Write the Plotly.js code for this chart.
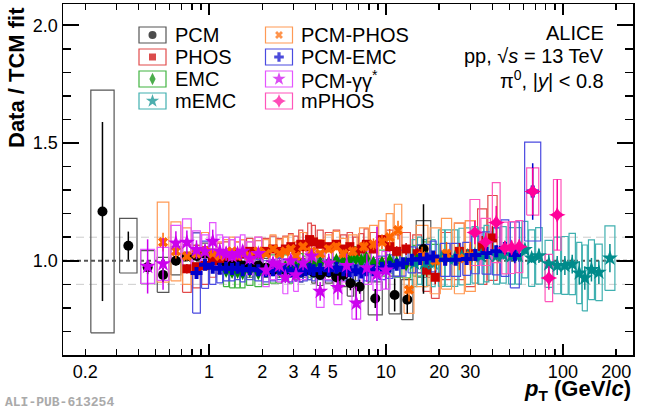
<!DOCTYPE html>
<html>
<head>
<meta charset="utf-8">
<script src="https://cdn.plot.ly/plotly-3.0.1.min.js"></script>
<style>
  html, body { margin:0; padding:0; background:#fff; }
  #plot { width:650px; height:409px; }
</style>
</head>
<body>
<div id="plot"></div>
<script>
// pi0 data / TCM fit, pp 13 TeV

// PCM
const pcmPt   = [0.25,0.35,0.45,0.55,0.65,0.75,0.85,0.95,1.05,1.15,1.25,1.35,1.45,1.55,1.7,1.9,2.1,2.3,2.5,2.7,2.9,3.1,3.3,3.5,3.7,3.9,4.25,4.75,5.25,5.75,6.3,7.1,8.7,11.2,13.2,16.3];
const pcmVal  = [1.209,1.064,0.973,0.94,1.0,1.018,1.02,1.03,1.01,1.0,0.99,0.98,0.99,0.98,0.97,0.98,0.97,0.96,0.97,0.96,0.97,0.96,0.95,0.97,0.96,0.95,0.94,0.95,0.93,0.94,0.905,0.89,0.84,0.855,0.835,1.05];
const pcmStat = [0.38,0.06,0.03,0.03,0.02,0.015,0.015,0.015,0.012,0.012,0.012,0.012,0.012,0.012,0.012,0.012,0.012,0.012,0.012,0.014,0.014,0.015,0.015,0.016,0.016,0.017,0.018,0.02,0.022,0.025,0.03,0.03,0.04,0.07,0.06,0.19];
const pcmSys  = [0.515,0.116,0.07,0.074,0.06,0.05,0.045,0.045,0.04,0.04,0.04,0.04,0.04,0.04,0.04,0.04,0.04,0.04,0.04,0.04,0.04,0.04,0.04,0.04,0.04,0.045,0.045,0.045,0.05,0.05,0.055,0.06,0.07,0.08,0.085,0.12];

// PHOS
const phosPt   = [0.75,0.85,0.95,1.05,1.15,1.25,1.35,1.45,1.55,1.7,1.9,2.1,2.3,2.5,2.7,2.9,3.1,3.3,3.5,3.7,3.9,4.25,4.75,5.25,5.75,6.25,6.75,7.25,7.75,8.5,9.5,10.5,11.5,13,15,17,19,22,26,30,35,40];
const phosVal  = [0.966,0.975,0.98,1.0,1.01,1.02,1.03,1.02,1.03,1.04,1.03,1.04,1.05,1.04,1.05,1.06,1.05,1.07,1.06,1.09,1.08,1.07,1.06,1.07,1.05,1.06,1.04,1.05,1.07,1.05,1.09,1.06,1.04,1.05,1.03,0.96,0.93,1.02,1.04,1.03,1.06,1.097];
const phosStat = [0.02,0.015,0.012,0.01,0.01,0.01,0.01,0.01,0.01,0.01,0.01,0.01,0.01,0.01,0.01,0.01,0.012,0.012,0.012,0.012,0.012,0.012,0.012,0.014,0.014,0.015,0.015,0.016,0.016,0.018,0.02,0.02,0.022,0.025,0.025,0.03,0.03,0.03,0.035,0.04,0.045,0.05];
const phosSys  = [0.1,0.09,0.08,0.07,0.065,0.06,0.06,0.06,0.06,0.055,0.055,0.055,0.055,0.055,0.055,0.055,0.055,0.06,0.06,0.07,0.07,0.06,0.06,0.06,0.06,0.06,0.06,0.065,0.065,0.07,0.08,0.07,0.07,0.07,0.08,0.09,0.09,0.1,0.12,0.14,0.16,0.18];

// EMC
const emcPt   = [1.25,1.35,1.45,1.55,1.7,1.9,2.1,2.3,2.5,2.7,2.9,3.1,3.3,3.5,3.7,3.9,4.25,4.75,5.25,5.75,6.25,6.75,7.25,7.75,8.5,9.5,10.5,11.5,13,15,17,19];
const emcVal  = [0.96,0.955,0.955,0.95,0.96,0.95,0.96,0.965,0.96,0.97,0.96,0.97,0.98,0.97,0.98,0.98,0.99,0.99,1.0,1.0,1.004,1.01,1.0,1.01,0.99,0.99,1.0,0.99,0.987,1.0,1.01,1.0];
const emcStat = [0.012,0.012,0.012,0.012,0.01,0.01,0.01,0.01,0.01,0.01,0.01,0.01,0.01,0.01,0.01,0.01,0.01,0.01,0.01,0.01,0.01,0.01,0.01,0.01,0.012,0.012,0.014,0.014,0.016,0.018,0.02,0.025];
const emcSys  = [0.07,0.07,0.07,0.065,0.065,0.06,0.06,0.06,0.055,0.055,0.055,0.05,0.05,0.05,0.05,0.05,0.05,0.05,0.05,0.05,0.05,0.05,0.05,0.05,0.05,0.055,0.055,0.06,0.06,0.065,0.07,0.07];

// mEMC
const memcPt   = [14.5,15.5,16.5,17.5,18.5,20.6,22.5,24.5,26.8,29,31.8,34.5,37,42.2,46,51.3,56,61,66.6,73.2,83.3,92.9,102.6,112.9,123.7,133,145,159.7,184.4];
const memcVal  = [0.99,1.0,0.99,0.995,0.99,1.011,1.011,1.011,1.018,1.02,1.025,1.02,1.03,1.021,1.025,1.021,1.021,1.047,1.011,1.021,0.987,0.98,0.98,0.986,0.948,0.927,0.962,0.951,1.011];
const memcStat = [0.015,0.015,0.015,0.015,0.015,0.015,0.015,0.015,0.015,0.015,0.015,0.015,0.015,0.02,0.02,0.02,0.02,0.02,0.02,0.03,0.04,0.04,0.04,0.04,0.05,0.05,0.05,0.05,0.06];
const memcSys  = [0.1,0.1,0.1,0.1,0.1,0.12,0.12,0.12,0.12,0.12,0.12,0.12,0.12,0.12,0.12,0.12,0.12,0.12,0.12,0.12,0.1,0.12,0.123,0.13,0.13,0.14,0.127,0.12,0.137];

// PCM-PHOS
const pcmphosPt   = [0.55,0.65,0.75,0.85,0.95,1.05,1.15,1.25,1.35,1.45,1.55,1.7,1.9,2.1,2.3,2.5,2.7,2.9,3.1,3.4,3.8,4.25,4.75,5.25,5.75,6.5,7.5,8.5,9.5,10.5,11.7,13.5,16,19,22,26,30];
const pcmphosVal  = [1.079,1.04,1.02,1.03,1.04,1.03,1.02,1.03,1.04,1.02,1.03,1.02,1.04,1.03,1.05,1.03,1.04,1.05,1.02,1.06,1.04,1.03,1.05,1.06,1.03,1.04,1.06,1.07,1.08,1.1,1.13,0.877,1.02,1.0,1.03,1.01,1.02];
const pcmphosStat = [0.04,0.03,0.02,0.015,0.015,0.012,0.012,0.012,0.012,0.012,0.012,0.012,0.012,0.012,0.012,0.012,0.012,0.012,0.012,0.012,0.012,0.014,0.015,0.016,0.018,0.02,0.022,0.025,0.03,0.035,0.04,0.05,0.04,0.04,0.05,0.05,0.06];
const pcmphosSys  = [0.17,0.125,0.12,0.09,0.08,0.06,0.06,0.06,0.06,0.06,0.06,0.06,0.06,0.06,0.06,0.06,0.06,0.06,0.06,0.06,0.06,0.06,0.06,0.065,0.065,0.07,0.08,0.08,0.09,0.1,0.11,0.1,0.13,0.14,0.15,0.15,0.15];

// PCM-EMC
const pcmemcPt   = [0.85,0.95,1.05,1.15,1.25,1.35,1.45,1.55,1.7,1.9,2.1,2.3,2.5,2.7,2.9,3.1,3.3,3.5,3.7,3.9,4.25,4.75,5.25,5.75,6.25,6.75,7.25,7.75,8.5,9.5,10.5,11.5,12.5,14,15.6,17,18.5,21.6,24.8,28.6,32,37,42,47,53.5,67.5];
const pcmemcVal  = [0.948,0.983,0.97,0.966,0.97,0.965,0.97,0.96,0.965,0.96,0.955,0.96,0.965,0.96,0.955,0.96,0.955,0.96,0.965,0.96,0.965,0.96,0.97,0.96,0.955,0.96,0.95,0.96,0.96,0.97,0.975,0.983,0.99,1.004,1.008,1.01,1.018,1.004,1.004,1.008,1.025,1.033,1.04,1.054,1.025,1.294];
const pcmemcStat = [0.02,0.015,0.01,0.01,0.01,0.01,0.01,0.01,0.01,0.01,0.01,0.01,0.01,0.01,0.01,0.01,0.01,0.01,0.01,0.01,0.01,0.01,0.01,0.01,0.01,0.01,0.01,0.01,0.01,0.012,0.012,0.014,0.015,0.015,0.015,0.016,0.016,0.015,0.015,0.015,0.015,0.02,0.025,0.03,0.035,0.12];
const pcmemcSys  = [0.17,0.1,0.07,0.06,0.055,0.05,0.05,0.05,0.045,0.045,0.045,0.045,0.045,0.045,0.045,0.045,0.045,0.045,0.045,0.045,0.045,0.045,0.045,0.045,0.045,0.045,0.045,0.045,0.045,0.05,0.05,0.05,0.055,0.055,0.06,0.06,0.065,0.07,0.07,0.07,0.08,0.09,0.1,0.12,0.14,0.21];

// PCM-gamma gamma*
const pcmdalPt   = [0.45,0.55,0.65,0.75,0.85,0.95,1.05,1.15,1.25,1.35,1.45,1.55,1.7,1.9,2.1,2.3,2.5,2.7,2.9,3.1,3.4,3.8,4.25,4.75,5.35,6.0,6.8,7.8,8.9,10];
const pcmdalVal  = [0.976,0.987,1.075,1.078,1.047,1.04,1.082,1.04,1.03,1.02,1.03,1.04,1.01,1.03,0.96,0.99,0.98,0.93,1.0,0.94,0.99,1.02,0.87,0.99,0.886,0.98,0.82,0.97,0.944,0.96];
const pcmdalStat = [0.115,0.11,0.05,0.05,0.04,0.03,0.05,0.03,0.03,0.025,0.025,0.025,0.025,0.025,0.025,0.025,0.025,0.025,0.025,0.03,0.03,0.03,0.04,0.04,0.05,0.05,0.07,0.06,0.2,0.08];
const pcmdalSys  = [0.072,0.07,0.075,0.1,0.08,0.07,0.08,0.07,0.07,0.07,0.07,0.07,0.07,0.07,0.07,0.07,0.07,0.07,0.07,0.07,0.07,0.07,0.068,0.07,0.072,0.07,0.068,0.07,0.07,0.08];

// mPHOS
const mphosPt   = [31.8,36.6,42,47,51.3,56.7,67.5,83.3,92.9];
const mphosVal  = [1.12,1.08,1.162,1.054,1.056,1.06,1.294,0.927,1.195];
const mphosStat = [0.05,0.04,0.07,0.03,0.03,0.03,0.1,0.05,0.15];
const mphosSys  = [0.14,0.1,0.17,0.11,0.11,0.11,0.1,0.1,0.15];

const xTickVals = [0.2,1,2,3,4,5,10,20,30,100,200];
const xMinorVals = [0.3,0.4,0.5,0.6,0.7,0.8,0.9,6,7,8,9,40,50,60,70,80,90];

const series = [
  {name:'PCM',      pt:pcmPt,     val:pcmVal,     stat:pcmStat,     sys:pcmSys,     color:'#000000', box:'#555555', symbol:'circle',       size:10},
  {name:'PHOS',     pt:phosPt,    val:phosVal,    stat:phosStat,    sys:phosSys,    color:'#cc0000', box:'#e24b4b', symbol:'square',       size:9},
  {name:'EMC',      pt:emcPt,     val:emcVal,     stat:emcStat,     sys:emcSys,     color:'#008a00', box:'#40b440', symbol:'diamond-tall', size:11},
  {name:'mEMC',     pt:memcPt,    val:memcVal,    stat:memcStat,    sys:memcSys,    color:'#008b8b', box:'#40b0b0', symbol:'star',         size:12},
  {name:'PCM-PHOS', pt:pcmphosPt, val:pcmphosVal, stat:pcmphosStat, sys:pcmphosSys, color:'#ff6600', box:'#ff9a55', symbol:'x',            size:9},
  {name:'PCM-EMC',  pt:pcmemcPt,  val:pcmemcVal,  stat:pcmemcStat,  sys:pcmemcSys,  color:'#0000cc', box:'#4a4ae0', symbol:'cross',        size:10},
  {name:'PCM-γγ<sup>*</sup>', pt:pcmdalPt, val:pcmdalVal, stat:pcmdalStat, sys:pcmdalSys, color:'#cc00ee', box:'#e455ff', symbol:'star', size:12},
  {name:'mPHOS',    pt:mphosPt,   val:mphosVal,   stat:mphosStat,   sys:mphosSys,   color:'#ff0099', box:'#ff55bb', symbol:'star-diamond', size:12}
];

// systematic boxes as closed outlines, width taken from neighbouring bins (log scale)
function boxTrace(s) {
  const lx = s.pt.map(Math.log10);
  const xs = [], ys = [];
  for (let i = 0; i < lx.length; i++) {
    const gl = i > 0 ? lx[i] - lx[i-1] : lx[i+1] - lx[i];
    const gr = i < lx.length - 1 ? lx[i+1] - lx[i] : gl;
    const h = 0.45 * Math.min(gl, gr);
    const x0 = Math.pow(10, lx[i] - h), x1 = Math.pow(10, lx[i] + h);
    const y0 = s.val[i] - s.sys[i], y1 = s.val[i] + s.sys[i];
    xs.push(x0, x1, x1, x0, x0, null);
    ys.push(y0, y0, y1, y1, y0, null);
  }
  return {x:xs, y:ys, mode:'lines', line:{color:s.box, width:1.2}, hoverinfo:'skip', showlegend:false};
}

function pointTrace(s) {
  return {
    x:s.pt, y:s.val, mode:'markers', name:s.name, showlegend:false,
    marker:{symbol:s.symbol, size:s.size, color:s.color, line:{width:0}},
    error_y:{type:'data', array:s.stat, visible:true, thickness:1.5, width:0, color:s.color}
  };
}

// pixel helpers for the decorations (plot area is 63..633 x 4..355)
const L = 63, R = 633, T = 4, B = 355;
const px = v => (v - L) / (R - L);
const py = v => (B - v) / (B - T);

const traces = [];
series.forEach(s => traces.push(boxTrace(s)));
series.forEach(s => traces.push(pointTrace(s)));
// dummy trace so the long-tick axis gets drawn
traces.push({x:[null], y:[null], xaxis:'x2', mode:'markers', showlegend:false, hoverinfo:'skip'});

// legend: two columns of four
const legX = [152.5, 279], legY = [35, 57, 79, 101];
const shapes = [], annotations = [];
const lgx = [], lgy = [], lgSym = [], lgCol = [], lgSize = [];
series.forEach((s, i) => {
  const cx = legX[Math.floor(i / 4)], cy = legY[i % 4];
  shapes.push({type:'rect', xref:'paper', yref:'paper', x0:px(cx - 13.5), x1:px(cx + 13.5), y0:py(cy + 8), y1:py(cy - 8),
    line:{color:s.box, width:1.2}, fillcolor:'rgba(0,0,0,0)'});
  annotations.push({xref:'paper', yref:'paper', x:px(cx + 20), y:py(cy), xanchor:'left', yanchor:'middle',
    text:s.name, showarrow:false, font:{size:20, color:'black'}});
  lgx.push(cx); lgy.push(cy); lgSym.push(s.symbol); lgCol.push(s.color); lgSize.push(s.size - 2);
});
traces.push({x:lgx, y:lgy, xaxis:'x3', yaxis:'y3', mode:'markers', showlegend:false, hoverinfo:'skip',
  marker:{symbol:lgSym, color:lgCol, size:lgSize, line:{width:0}}});

// reference lines
shapes.push({type:'line', xref:'paper', x0:0, x1:1, y0:1.1, y1:1.1, layer:'below', line:{color:'#cccccc', width:1, dash:'8px,5px'}});
shapes.push({type:'line', xref:'paper', x0:0, x1:1, y0:0.9, y1:0.9, layer:'below', line:{color:'#cccccc', width:1, dash:'8px,5px'}});
shapes.push({type:'line', xref:'paper', x0:0, x1:1, y0:1.0, y1:1.0, layer:'below', line:{color:'#555555', width:2, dash:'4px,3px'}});

// system labels
[['ALICE', 33], ['pp, √<i>s</i> = 13 TeV', 56], ['π<sup>0</sup>, |<i>y</i>| &lt; 0.8', 79]].forEach(([t, y]) => {
  annotations.push({xref:'paper', yref:'paper', x:px(606), y:py(y), xanchor:'right', yanchor:'middle',
    text:t, showarrow:false, font:{size:20, color:'black'}});
});

annotations.push({xref:'paper', yref:'paper', x:px(17), y:py(78), textangle:-90, xanchor:'center', yanchor:'middle',
  text:'<b>Data / TCM fit</b>', showarrow:false, font:{size:22, color:'black'}});
annotations.push({xref:'paper', yref:'paper', x:px(633), y:py(390), xanchor:'right', yanchor:'middle',
  text:'<b><i>p</i><sub>T</sub> (GeV/<i>c</i>)</b>', showarrow:false, font:{size:22, color:'black'}});
annotations.push({xref:'paper', yref:'paper', x:px(3), y:py(402), xanchor:'left', yanchor:'middle',
  text:'<b>ALI-PUB-613254</b>', showarrow:false, font:{family:'Liberation Mono, DejaVu Sans Mono, monospace', size:13, color:'#aaaaaa'}});

const xRange = [Math.log10(0.1496), Math.log10(249)];
const layout = {
  width:650, height:409,
  margin:{l:L, r:650 - R, t:T, b:409 - B},
  paper_bgcolor:'white', plot_bgcolor:'white',
  showlegend:false,
  font:{family:'Liberation Sans, Arial, sans-serif', color:'black'},
  xaxis:{type:'log', range:xRange, showgrid:false, zeroline:false,
    showline:true, linecolor:'black', linewidth:1.5, mirror:'ticks',
    ticks:'inside', ticklen:6, tickwidth:1.5, tickcolor:'black',
    tickmode:'array', tickvals:xTickVals, ticktext:xTickVals.map(String),
    tickfont:{size:18},
    minor:{tickmode:'array', tickvals:xMinorVals, ticks:'inside', ticklen:6, tickwidth:1.5, tickcolor:'black', showgrid:false}},
  xaxis2:{type:'log', range:xRange, overlaying:'x', anchor:'y', side:'bottom',
    showgrid:false, zeroline:false, showline:false, mirror:'ticks',
    ticks:'inside', ticklen:11, tickwidth:1.5, tickcolor:'black',
    tickmode:'array', tickvals:[1,10,100], showticklabels:false},
  xaxis3:{range:[L, R], overlaying:'x', anchor:'y3', visible:false, fixedrange:true},
  yaxis3:{range:[B, T], overlaying:'y', anchor:'x3', visible:false, fixedrange:true},
  yaxis:{range:[0.6, 2.09], showgrid:false, zeroline:false,
    showline:true, linecolor:'black', linewidth:1.5, mirror:'ticks',
    ticks:'inside', ticklen:16, tickwidth:1.5, tickcolor:'black',
    tick0:0, dtick:0.5, tickformat:'.1f', tickfont:{size:18},
    minor:{dtick:0.1, ticks:'inside', ticklen:8, tickwidth:1.5, tickcolor:'black', showgrid:false}},
  shapes:shapes,
  annotations:annotations
};

Plotly.newPlot('plot', traces, layout, {staticPlot:true, displayModeBar:false});
</script>
</body>
</html>
